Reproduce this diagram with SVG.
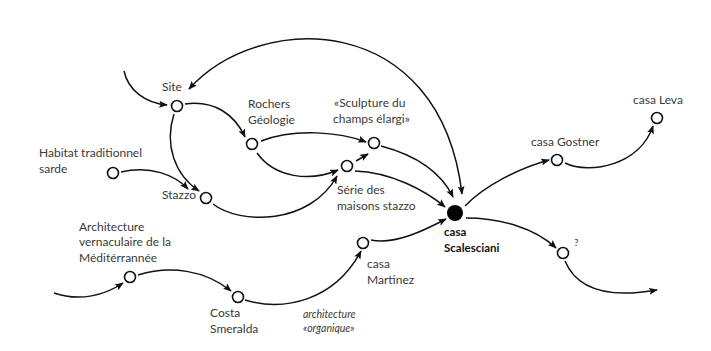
<svg xmlns="http://www.w3.org/2000/svg" width="711" height="351" viewBox="0 0 711 351">
<style>
.n{fill:#fff;stroke:#111;stroke-width:1.6}
.e{fill:none;stroke:#111;stroke-width:1.5;marker-end:url(#ah)}
text{font-family:Lato,"Open Sans","Liberation Sans",sans-serif;font-size:12px;fill:#3a3a3a}
.b{font-weight:bold;fill:#111;font-size:11.5px}
.i{font-style:italic;font-size:10.5px}
</style>
<defs>
<marker id="ah" viewBox="0 0 10 8" refX="9" refY="4" markerWidth="9" markerHeight="7" markerUnits="userSpaceOnUse" orient="auto-start-reverse">
<path d="M0,0 L10,4 L0,8 L2,4 z" fill="#111"/>
</marker>
</defs>
<rect width="711" height="351" fill="#fff"/>
<g id="connectors">
<path class="e" d="M124,71 C128,90 145,103 167,105"/>
<path class="e" style="marker-start:url(#ah)" d="M189,89 C260,10 440,10 462,194"/>
<path class="e" d="M185,104 C215,100 235,115 245,137"/>
<path class="e" d="M174,114 C164,145 175,175 199,191"/>
<path class="e" d="M121,172 C150,165 175,175 188,189"/>
<path class="e" d="M261,141 C295,128 340,132 366,142"/>
<path class="e" d="M257,153 C275,178 310,182 338,170"/>
<path class="e" d="M356,161 L368,154"/>
<path class="e" d="M213,204 C240,225 310,225 337,176"/>
<path class="e" d="M381,146 C415,155 440,170 453,197"/>
<path class="e" d="M355,171 C390,172 425,190 445,207"/>
<path class="e" d="M371,240 C395,245 425,230 446,219"/>
<path class="e" d="M245,300 C285,312 335,300 361,251"/>
<path class="e" d="M138,275 C170,265 205,270 231,291"/>
<path class="e" d="M54,293 C80,302 105,295 123,283"/>
<path class="e" d="M465,206 C485,185 520,168 549,160"/>
<path class="e" d="M565,163 C590,175 640,165 653,126"/>
<path class="e" d="M466,218 C500,218 535,228 556,248"/>
<path class="e" d="M565,261 C575,285 600,300 657,290"/>
</g>
<g id="site"><circle class="n" cx="177" cy="106" r="5.5"/><text x="162" y="91">Site</text></g>
<g id="rochers"><circle class="n" cx="252" cy="144" r="5.5"/><text x="248" y="108">Rochers</text><text x="248" y="124">Géologie</text></g>
<g id="sculpture"><circle class="n" cx="374" cy="143" r="5.5"/><text x="334" y="107">«Sculpture du</text><text x="333" y="123">champs élargi»</text></g>
<g id="serie"><circle class="n" cx="347" cy="166" r="5.5"/><text x="337" y="194">Série des</text><text x="337" y="210">maisons stazzo</text></g>
<g id="habitat"><circle class="n" cx="113" cy="173" r="5.5"/><text x="39" y="157">Habitat traditionnel</text><text x="39" y="173">sarde</text></g>
<g id="stazzo"><circle class="n" cx="206" cy="198" r="5.5"/><text x="196" y="199" text-anchor="end">Stazzo</text></g>
<g id="architecture"><circle class="n" cx="130" cy="277" r="5.5"/><text x="79" y="231">Architecture</text><text x="79" y="246">vernaculaire de la</text><text x="79" y="262">Méditérrannée</text></g>
<g id="costa"><circle class="n" cx="238" cy="297" r="5.5"/><text x="210" y="317">Costa</text><text x="210" y="333">Smeralda</text></g>
<g id="organique"><text class="i" x="303" y="318">architecture</text><text class="i" x="303" y="332">«organique»</text></g>
<g id="martinez"><circle class="n" cx="363" cy="243" r="5.5"/><text x="367" y="268">casa</text><text x="367" y="284">Martinez</text></g>
<g id="scalesciani"><circle cx="455" cy="213" r="8" fill="#000"/><text class="b" x="444" y="236">casa</text><text class="b" x="444" y="252">Scalesciani</text></g>
<g id="gostner"><circle class="n" cx="557" cy="160" r="5.5"/><text x="531" y="146">casa Gostner</text></g>
<g id="leva"><circle class="n" cx="657" cy="118" r="5.5"/><text x="633" y="104">casa Leva</text></g>
<g id="question"><circle class="n" cx="563" cy="253" r="5.5"/><text x="574" y="246" style="font-size:10px">?</text></g>
</svg>
